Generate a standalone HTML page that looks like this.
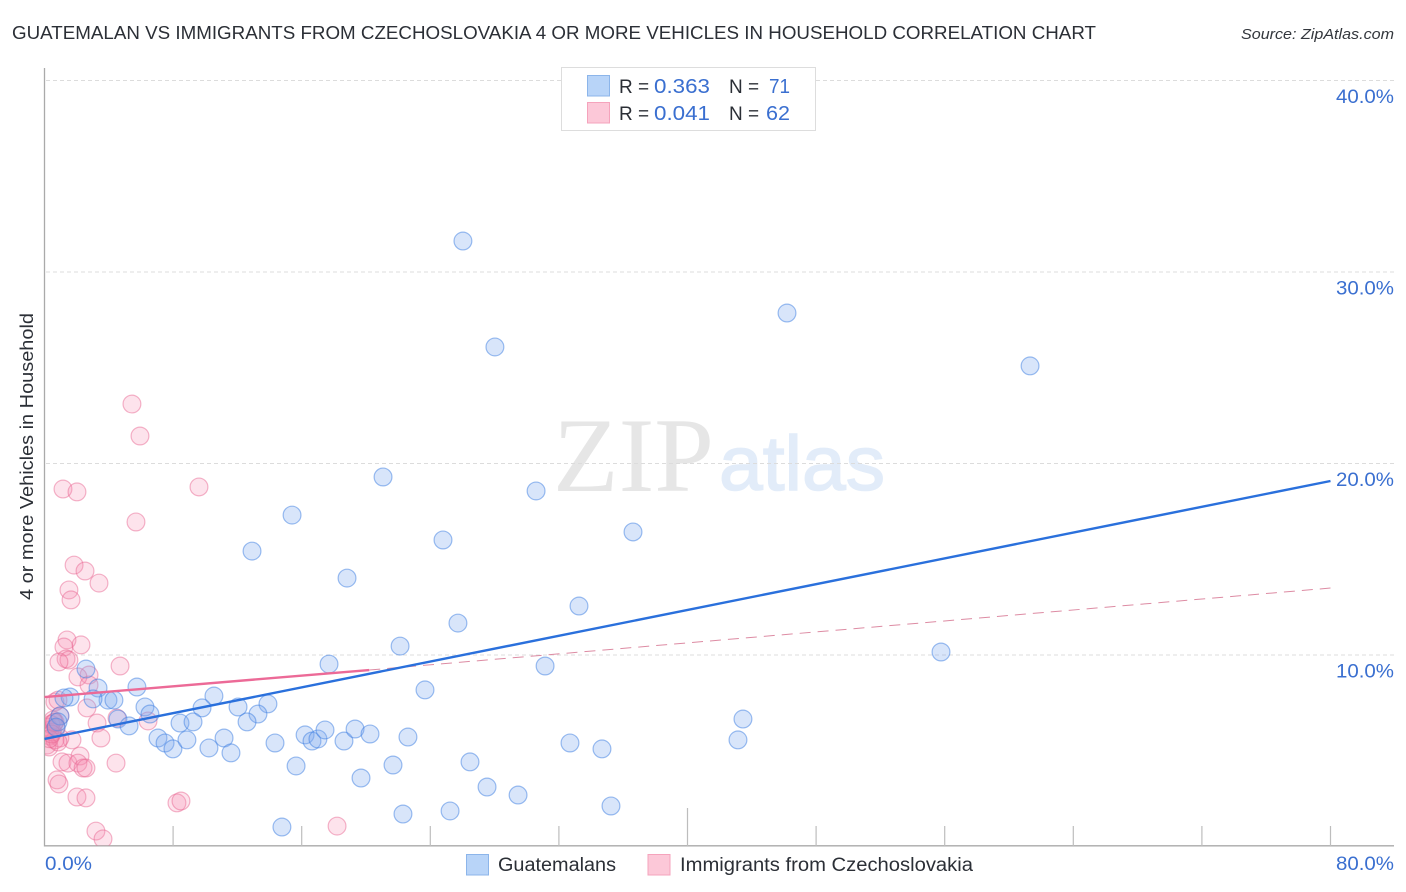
<!DOCTYPE html>
<html lang="en">
<head>
<meta charset="utf-8">
<title>Guatemalan vs Immigrants from Czechoslovakia 4 or More Vehicles in Household Correlation Chart</title>
<style>
html,body{margin:0;padding:0;background:#fff;}
svg{display:block;font-family:"Liberation Sans",sans-serif;}
</style>
</head>
<body>
<svg id="chart" xmlns="http://www.w3.org/2000/svg" width="1406" height="892" viewBox="0 0 1406 892">
  <defs>
    <clipPath id="plot-clip"><rect x="45" y="60" width="1350" height="785.5"/></clipPath>
  </defs>
  <rect x="0" y="0" width="1406" height="892" fill="#ffffff"/>
  <text x="12" y="39" font-size="18.5" fill="#2b2f36" textLength="1084" lengthAdjust="spacingAndGlyphs">GUATEMALAN VS IMMIGRANTS FROM CZECHOSLOVAKIA 4 OR MORE VEHICLES IN HOUSEHOLD CORRELATION CHART</text>
  <text x="1241" y="39" font-size="15" font-style="italic" fill="#33373d" textLength="153" lengthAdjust="spacingAndGlyphs">Source: ZipAtlas.com</text>
  <text x="553" y="491" font-family="'Liberation Serif',serif" font-size="106" fill="#e6e6e6" textLength="161" lengthAdjust="spacingAndGlyphs">ZIP</text>
  <text x="719" y="490" font-size="77" fill="#e2ecf9" stroke="#e2ecf9" stroke-width="1.5" textLength="166" lengthAdjust="spacingAndGlyphs">atlas</text>
  <g id="grid"></g>
  <g id="axes"></g>
  <g id="points-pink" clip-path="url(#plot-clip)"></g>
  <g id="points-blue" clip-path="url(#plot-clip)"></g>
  <g id="trends"></g>
  <text transform="translate(33,456.5) rotate(-90)" text-anchor="middle" font-size="18.5" fill="#2b2f36" textLength="287" lengthAdjust="spacingAndGlyphs">4 or more Vehicles in Household</text>
  <g>
    <rect x="561.5" y="67.5" width="254" height="63" fill="#ffffff" stroke="#dddddd" stroke-width="1"/>
    <rect x="587.5" y="75.5" width="22" height="20.5" fill="#b8d4f8" stroke="#8cb5ea" stroke-width="1"/>
    <text x="619" y="93" font-size="19" fill="#2b2f36">R =</text>
    <text x="654" y="93" font-size="20" fill="#3a6fd0" textLength="56" lengthAdjust="spacingAndGlyphs">0.363</text>
    <text x="729" y="93" font-size="19" fill="#2b2f36">N =</text>
    <text x="769" y="93" font-size="20" fill="#3a6fd0" textLength="21" lengthAdjust="spacingAndGlyphs">71</text>
    <rect x="587.5" y="102.5" width="22" height="20.5" fill="#fcc8d8" stroke="#f5a3bc" stroke-width="1"/>
    <text x="619" y="120" font-size="19" fill="#2b2f36">R =</text>
    <text x="654" y="120" font-size="20" fill="#3a6fd0" textLength="56" lengthAdjust="spacingAndGlyphs">0.041</text>
    <text x="729" y="120" font-size="19" fill="#2b2f36">N =</text>
    <text x="766" y="120" font-size="20" fill="#3a6fd0" textLength="24" lengthAdjust="spacingAndGlyphs">62</text>
  </g>
  <g>
    <rect x="466.5" y="854.5" width="22" height="20.5" fill="#b8d4f8" stroke="#8cb5ea" stroke-width="1"/>
    <text x="498" y="871" font-size="19" fill="#2b2f36" textLength="118" lengthAdjust="spacingAndGlyphs">Guatemalans</text>
    <rect x="648" y="854.5" width="22" height="20.5" fill="#fcc8d8" stroke="#f5a3bc" stroke-width="1"/>
    <text x="680" y="871" font-size="19" fill="#2b2f36" textLength="293" lengthAdjust="spacingAndGlyphs">Immigrants from Czechoslovakia</text>
  </g>
</svg>
<script>
var xTickValues = [8, 16, 24, 32, 40, 48, 56, 64, 72, 80];
var yTickValues = [10, 20, 30, 40];
var yTickLabels = ['10.0%', '20.0%', '30.0%', '40.0%'];
var xStartLabel = '0.0%';
var xEndLabel = '80.0%';
var blueX = [26.03,28.02,46.19,61.31,21.06,30.58,15.40,12.91,24.79,36.61,18.82,33.25,25.72,22.12,17.70,31.14,55.77,23.67,2.58,5.75,3.33,1.59,1.21,3.95,4.32,3.02,10.54,6.25,9.80,6.56,12.04,13.90,13.28,12.60,4.57,5.26,0.96,0.84,0.72,8.43,9.24,43.45,7.06,7.50,7.99,8.86,11.17,10.23,11.60,14.34,16.21,16.64,17.01,17.45,18.63,19.32,20.25,22.61,32.69,34.68,43.14,15.65,21.68,19.69,26.47,27.53,29.46,22.30,25.23,35.24,14.77];
var blueY = [31.59,26.06,27.83,25.07,19.27,18.54,17.28,15.40,15.98,16.40,13.99,12.53,11.64,10.44,9.50,9.40,10.13,8.15,9.24,8.30,8.25,7.78,7.73,7.62,7.62,7.68,7.83,7.26,7.21,6.89,7.26,7.42,6.89,6.48,6.63,6.27,6.79,6.48,6.21,6.42,6.48,6.63,5.64,5.38,5.07,5.54,5.64,5.12,4.86,5.38,5.80,5.48,5.59,6.06,5.48,6.11,5.85,5.69,5.38,5.07,5.54,4.18,4.23,3.55,4.39,3.08,2.66,1.67,1.83,2.09,0.99];
var pinkX = [5.44,5.94,1.15,2.02,9.61,5.69,1.84,2.52,3.39,1.52,1.65,1.40,2.27,1.21,1.34,1.52,0.90,4.70,2.77,2.08,2.77,2.64,0.65,0.84,3.27,6.44,4.51,3.51,1.71,0.96,0.65,0.96,0.34,0.53,0.22,0.34,0.16,0.28,0.65,0.84,1.09,1.46,2.21,2.08,2.40,2.58,4.45,0.78,0.90,2.02,2.58,8.24,8.49,3.20,3.64,18.20,0.40,0.72,0.50,0.30,0.60,0.45];
var pinkY = [23.08,21.41,18.64,18.49,18.75,16.92,14.67,14.36,13.73,13.37,12.85,10.76,10.50,10.39,9.77,9.71,9.61,9.40,8.93,8.83,8.41,7.21,7.52,7.62,6.42,6.53,6.68,5.64,5.54,5.64,6.48,6.79,6.06,6.58,6.21,5.74,5.27,5.17,5.54,5.43,4.39,4.33,4.70,4.33,4.07,4.07,4.33,3.45,3.24,2.56,2.51,2.25,2.35,0.78,0.37,1.04,6.35,6.15,5.95,5.60,6.45,5.85];
var trendX = [0, 80];
var blueTrendY = [5.59, 19.06];
var pinkSolidX = [0, 20.2];
var pinkSolidY = [7.78, 9.19];
var pinkDashX = [20.2, 80];
var pinkDashY = [9.19, 13.47];

var svgNS = 'http://www.w3.org/2000/svg';
var xScale = function (v) { return 44.5 + v * 16.075; };
var yScale = function (v) { return 846 - v * 19.15; };
function mk(tag, parent) {
  var el = document.createElementNS(svgNS, tag);
  parent.appendChild(el);
  return el;
}
function setAll(el, o) {
  for (var k in o) { el.setAttribute(k, o[k]); }
}

var gridG = document.getElementById('grid');
var axesG = document.getElementById('axes');
yTickValues.forEach(function (v, i) {
  var line = mk('line', gridG);
  
  
  setAll(line, { x1: 46, x2: 1394, y1: yScale(v) + 0.5, y2: yScale(v) + 0.5, stroke: '#dcdcdc', 'stroke-width': 1, 'stroke-dasharray': '4 3' });
  var t = mk('text', axesG);
  
  
  setAll(t, { x: 1336, y: yScale(v) + 23, 'font-size': 19.5, fill: '#3a6fd0', textLength: 58, lengthAdjust: 'spacingAndGlyphs' });
  t.textContent = yTickLabels[i];
});

var yAxis = mk('line', axesG);


setAll(yAxis, { x1: 44.5, x2: 44.5, y1: 68, y2: 846.5, stroke: '#aaaaaa', 'stroke-width': 1.3 });
var xAxis = mk('line', axesG);


setAll(xAxis, { x1: 44, x2: 1394, y1: 845.8, y2: 845.8, stroke: '#aaaaaa', 'stroke-width': 1.3 });

xTickValues.forEach(function (v) {
  var tick = mk('line', axesG);
  
  
  setAll(tick, { x1: xScale(v), x2: xScale(v), y1: v === 40 ? 808 : 826, y2: 846, stroke: '#bdbdbd', 'stroke-width': 1.2 });
});

var xLabelLeft = mk('text', axesG);


setAll(xLabelLeft, { x: 45, y: 870, 'font-size': 19.5, fill: '#3a6fd0', textLength: 47, lengthAdjust: 'spacingAndGlyphs' });
xLabelLeft.textContent = xStartLabel;
var xLabelRight = mk('text', axesG);


setAll(xLabelRight, { x: 1336, y: 870, 'font-size': 19.5, fill: '#3a6fd0', textLength: 58, lengthAdjust: 'spacingAndGlyphs' });
xLabelRight.textContent = xEndLabel;

var pinkG = document.getElementById('points-pink');
pinkX.forEach(function (v, i) {
  var c = mk('circle', pinkG);
  
  
  setAll(c, { cx: xScale(v), cy: yScale(pinkY[i]), r: 8.9, fill: 'rgba(247,140,175,0.24)', stroke: 'rgba(232,100,145,0.48)', 'stroke-width': 1.2 });
});
var blueG = document.getElementById('points-blue');
blueX.forEach(function (v, i) {
  var c = mk('circle', blueG);
  
  
  setAll(c, { cx: xScale(v), cy: yScale(blueY[i]), r: 8.9, fill: 'rgba(125,170,240,0.30)', stroke: 'rgba(60,125,225,0.50)', 'stroke-width': 1.2 });
});

var trendG = document.getElementById('trends');
var pinkDash = mk('line', trendG);


setAll(pinkDash, { x1: xScale(pinkDashX[0]), x2: xScale(pinkDashX[1]), y1: yScale(pinkDashY[0]), y2: yScale(pinkDashY[1]), stroke: '#dd8ba3', 'stroke-width': 1, 'stroke-dasharray': '11 7' });
var pinkSolid = mk('line', trendG);


setAll(pinkSolid, { x1: xScale(pinkSolidX[0]), x2: xScale(pinkSolidX[1]), y1: yScale(pinkSolidY[0]), y2: yScale(pinkSolidY[1]), stroke: '#ec6a97', 'stroke-width': 2.4 });
var blueTrend = mk('line', trendG);


setAll(blueTrend, { x1: xScale(trendX[0]), x2: xScale(trendX[1]), y1: yScale(blueTrendY[0]), y2: yScale(blueTrendY[1]), stroke: '#2a70dc', 'stroke-width': 2.4 });
</script>
</body>
</html>
